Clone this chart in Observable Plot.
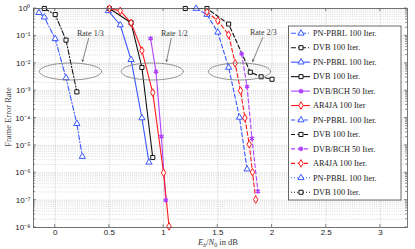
<!DOCTYPE html>
<html><head><meta charset="utf-8">
<script src="https://cdn.jsdelivr.net/npm/d3@7"></script>
<script src="https://cdn.jsdelivr.net/npm/@observablehq/plot@0.6"></script>
<style>body{margin:0;background:#fff}#c{position:relative;width:415px;height:249px}</style>
</head><body><div id="c"></div>
<script>
// ---- data (Eb/N0 in dB, frame error rate) ----
const pbrl13X = [-0.15, -0.1, 0, 0.1, 0.2, 0.25];
const pbrl13Y = [0.7, 0.48, 0.078, 0.0029, 6.2e-5, 3.9e-6];
const dvb13X = [-0.1, 0, 0.1, 0.2];
const dvb13Y = [1, 0.6, 0.07, 9e-4];
const pbrl12X = [0.49, 0.6, 0.7, 0.8, 0.865];
const pbrl12Y = [0.82, 0.25, 0.0135, 1e-4, 2.4e-6];
const dvb12X = [0.5, 0.7, 0.8, 0.9];
const dvb12Y = [1, 0.3, 7e-3, 3.6e-6];
const bch12X = [0.88, 0.93, 0.98, 1.02];
const bch12Y = [0.08, 4.9e-3, 2.1e-5, 1e-7];
const ar12X = [0.5, 0.6, 0.7, 0.8, 0.9, 1.0, 1.05];
const ar12Y = [1, 0.82, 0.3, 0.029, 8.5e-4, 1e-6, 1.1e-8];
const pbrl23X = [1.3, 1.4, 1.5, 1.6, 1.7, 1.77];
const pbrl23Y = [1, 0.6, 0.135, 7e-3, 1.05e-4, 1.35e-6];
const dvb23X = [1.2, 1.4, 1.6, 1.8, 1.9, 2.0];
const dvb23Y = [1, 1, 0.27, 4.7e-3, 3.2e-3, 2.6e-3];
const bch23X = [1.72, 1.77, 1.815, 1.87];
const bch23Y = [0.022, 1.4e-3, 1.8e-5, 2.1e-7];
const ar23X = [1.4, 1.5, 1.6, 1.66, 1.71, 1.75, 1.79, 1.82, 1.85];
const ar23Y = [0.75, 0.36, 0.11, 0.01, 1e-3, 1e-4, 1.1e-5, 1.05e-6, 1.05e-7];
const emptyX = [];
const emptyY = [];

const seriesLabels = ["PN-PBRL 100 Iter.", "DVB 100 Iter.", "PN-PBRL 100 Iter.", "DVB 100 Iter.",
  "DVB/BCH 50 Iter.", "AR4JA 100 Iter", "PN-PBRL 100 Iter.", "DVB 100 Iter.",
  "DVB/BCH 50 Iter.", "AR4JA 100 Iter.", "PN-PBRL 100 Iter.", "DVB 100 Iter."];
const seriesX = [pbrl13X, dvb13X, pbrl12X, dvb12X, bch12X, ar12X, pbrl23X, dvb23X, bch23X, ar23X, emptyX, emptyX];
const seriesY = [pbrl13Y, dvb13Y, pbrl12Y, dvb12Y, bch12Y, ar12Y, pbrl23Y, dvb23Y, bch23Y, ar23Y, emptyY, emptyY];

const xTicks = [0, 0.5, 1, 1.5, 2, 2.5, 3];
const yTicks = [1, 1e-1, 1e-2, 1e-3, 1e-4, 1e-5, 1e-6, 1e-7, 1e-8];
const yTickLabels = ["10⁰", "10⁻¹", "10⁻²", "10⁻³", "10⁻⁴", "10⁻⁵", "10⁻⁶", "10⁻⁷", "10⁻⁸"];

const rateLabels = ["Rate 1/3", "Rate 1/2", "Rate 2/3"];
const rateLabelX = [0.325, 1.10, 1.92];
const rateLabelY = [0.12, 0.12, 0.13];
const rateArrowX1 = [0.308, 1.07, 1.914];
const rateArrowY1 = [0.08, 0.08, 0.087];
const rateArrowX2 = [0.252, 1.027, 1.822];
const rateArrowY2 = [0.0116, 0.0116, 0.0116];
const ellipseCx = [0.141, 0.895, 1.70];
const ellipseCy = [5e-3, 5e-3, 5e-3];
const ellipseRx = 0.286;      // in dB
const ellipseRyDec = 0.31;    // in decades

// ---- styles ----
const BLUE = "#3a57ff", BLACK = "#111", PURPLE = "#b040ff", RED = "#ff1a1a";
const DASHDOT = "5,2,1,2", SOLID = null, DASH = "4,2.5", DOT = "1,2";
const styles = [
  {c: BLUE, d: DASHDOT, s: "triangle"}, {c: BLACK, d: DASHDOT, s: "square"},
  {c: BLUE, d: SOLID, s: "triangle"}, {c: BLACK, d: SOLID, s: "square"},
  {c: PURPLE, d: SOLID, s: "asterisk"}, {c: RED, d: SOLID, s: "diamond"},
  {c: BLUE, d: DASH, s: "triangle"}, {c: BLACK, d: DASH, s: "square"},
  {c: PURPLE, d: DASH, s: "asterisk"}, {c: RED, d: DASH, s: "diamond"},
  {c: BLUE, d: DOT, s: "triangle"}, {c: BLACK, d: DOT, s: "square"}
];
const R = 2.3;

const series = seriesLabels.map((label, i) => ({
  label, style: styles[i],
  rows: seriesX[i].map((x, j) => ({x, y: seriesY[i][j]}))
}));

// grid values
const minorY = [];
for (let e = -8; e < 0; e++) for (let m = 2; m <= 9; m++) minorY.push(m * Math.pow(10, e));

// ellipses (annotation shapes)
const ellipses = [];
ellipseCx.forEach((cx, k) => {
  const lc = Math.log10(ellipseCy[k]);
  d3.range(0, 361, 6).forEach(a => {
    const t = a * Math.PI / 180;
    ellipses.push({k, x: cx + ellipseRx * Math.cos(t), y: Math.pow(10, lc + ellipseRyDec * Math.sin(t))});
  });
});
const rateAnn = rateLabels.map((t, i) => ({t, x: rateLabelX[i], y: rateLabelY[i],
  x1: rateArrowX1[i], y1: rateArrowY1[i], x2: rateArrowX2[i], y2: rateArrowY2[i]}));

const marks = [
  Plot.ruleY(minorY, {stroke: "#c4c4c4", strokeWidth: 0.6, strokeDasharray: "1,1.2"}),
  Plot.ruleY(yTicks, {stroke: "#bdbdbd", strokeWidth: 0.7, strokeDasharray: "1,1.2"}),
  Plot.ruleX(xTicks, {stroke: "#bdbdbd", strokeWidth: 0.7, strokeDasharray: "1,1.2"}),
];
series.forEach(s => {
  if (!s.rows.length) return;
  marks.push(Plot.line(s.rows, {x: "x", y: "y", stroke: s.style.c, strokeWidth: 1.1,
    strokeDasharray: s.style.d || undefined}));
});
series.forEach(s => {
  if (!s.rows.length) return;
  marks.push(Plot.dot(s.rows, {x: "x", y: "y", symbol: () => s.style.s, stroke: s.style.c,
    fill: s.style.s === "asterisk" ? s.style.c : "white", r: R, strokeWidth: s.style.s === "asterisk" ? 1.4 : 1}));
});
marks.push(
  Plot.line(ellipses, {x: "x", y: "y", z: "k", stroke: "#777", strokeWidth: 0.8}),
  Plot.arrow(rateAnn, {x1: "x1", y1: "y1", x2: "x2", y2: "y2", stroke: "#333", strokeWidth: 0.6, headLength: 5, bend: false}),
  Plot.text(rateAnn, {x: "x", y: "y", text: "t", fontFamily: "Liberation Serif", fontSize: 8, fill: "#333"}),
  Plot.frame({stroke: "#555", strokeWidth: 0.8}),
  Plot.axisX(xTicks, {tickSize: 0, tickPadding: 2, tickFormat: d => String(d), fontSize: 8, fill: "#222", label: null}),
  Plot.axisY(yTicks, {tickSize: 0, tickPadding: 3, tickFormat: (d, i) => yTickLabels[yTicks.indexOf(d)], fontSize: 8, fill: "#222", label: null})
);

const plot = Plot.plot({
  width: 415, height: 249,
  marginLeft: 33, marginRight: 8, marginTop: 8, marginBottom: 22,
  x: {domain: [-0.2, 3.25]},
  y: {type: "log", domain: [1e-8, 1]},
  style: {fontFamily: "Liberation Sans", fontSize: "8px", background: "white"},
  marks
});
document.getElementById("c").appendChild(plot);

// ---- inward ticks, axis labels, legend ----
const svg = d3.select(plot);
const sx = plot.scale("x"), sy = plot.scale("y");
const X = v => sx.apply(v), Y = v => sy.apply(v);
const x0 = X(-0.2), x1 = X(3.25), y0 = Y(1e-8), y1 = Y(1);
const tg = svg.append("g").attr("stroke", "#555").attr("stroke-width", 0.7);
xTicks.forEach(v => {
  tg.append("line").attr("x1", X(v)).attr("x2", X(v)).attr("y1", y0).attr("y2", y0 - 3);
  tg.append("line").attr("x1", X(v)).attr("x2", X(v)).attr("y1", y1).attr("y2", y1 + 3);
});
yTicks.forEach(v => {
  tg.append("line").attr("x1", x0).attr("x2", x0 + 3).attr("y1", Y(v)).attr("y2", Y(v));
  tg.append("line").attr("x1", x1).attr("x2", x1 - 3).attr("y1", Y(v)).attr("y2", Y(v));
});
minorY.forEach(v => {
  tg.append("line").attr("x1", x0).attr("x2", x0 + 1.8).attr("y1", Y(v)).attr("y2", Y(v));
  tg.append("line").attr("x1", x1).attr("x2", x1 - 1.8).attr("y1", Y(v)).attr("y2", Y(v));
});

const xl = svg.append("text").attr("x", 218).attr("y", 245).attr("text-anchor", "middle")
  .attr("font-family", "Liberation Serif").attr("font-size", 8.5).attr("fill", "#333");
xl.append("tspan").attr("font-style", "italic").text("E");
xl.append("tspan").attr("font-style", "italic").attr("font-size", 6).attr("dy", 1.5).text("b");
xl.append("tspan").attr("dy", -1.5).text("/");
xl.append("tspan").attr("font-style", "italic").text("N");
xl.append("tspan").attr("font-size", 6).attr("dy", 1.5).text("0");
xl.append("tspan").attr("dy", -1.5).text(" in dB");

svg.append("text").attr("transform", "translate(11,117) rotate(-90)").attr("text-anchor", "middle")
  .attr("font-family", "Liberation Serif").attr("font-size", 8.5).attr("fill", "#444").text("Frame Error Rate");

const lg = svg.append("g").attr("text-anchor", "start");
lg.append("rect").attr("x", 288.5).attr("y", 26).attr("width", 112.5).attr("height", 174)
  .attr("fill", "white").attr("stroke", "#444").attr("stroke-width", 0.8);
const symMap = {triangle: d3.symbolTriangle, square: d3.symbolSquare, diamond: d3.symbolDiamond, asterisk: d3.symbolAsterisk};
series.forEach((s, i) => {
  const yy = 33.3 + i * 14.45;
  const l = lg.append("line").attr("x1", 291).attr("x2", 310).attr("y1", yy).attr("y2", yy)
    .attr("stroke", s.style.c).attr("stroke-width", 1.1);
  if (s.style.d) l.attr("stroke-dasharray", s.style.d);
  lg.append("path").attr("transform", `translate(301,${yy})`)
    .attr("d", d3.symbol(symMap[s.style.s], R * R * Math.PI)())
    .attr("stroke", s.style.c).attr("stroke-width", s.style.s === "asterisk" ? 1.4 : 1)
    .attr("fill", s.style.s === "asterisk" ? s.style.c : "white");
  lg.append("text").attr("x", 313).attr("y", yy).attr("dy", "0.33em").attr("text-anchor", "start")
    .attr("font-family", "Liberation Serif").attr("font-size", 8.3).attr("fill", "#222").text(s.label);
});
</script>
</body></html>
